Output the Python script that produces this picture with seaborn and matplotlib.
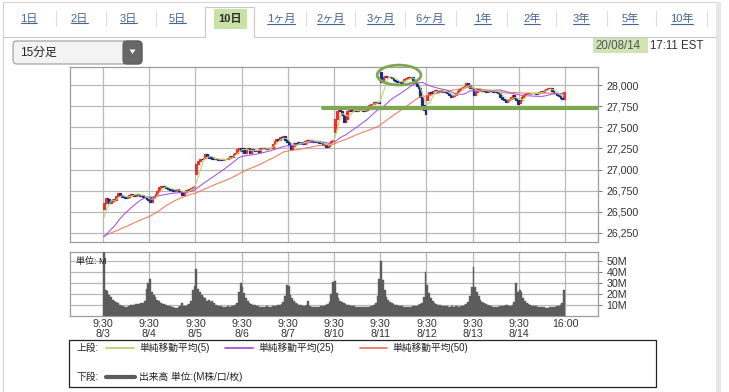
import numpy as np
import pandas as pd
import matplotlib
matplotlib.use("Agg")
import matplotlib.pyplot as plt
import matplotlib.transforms as mtransforms
from matplotlib.patches import Rectangle, Ellipse, FancyBboxPatch, Polygon
from matplotlib.lines import Line2D
import seaborn as sns

# ---------------- data ----------------
day_labels = ["8/3", "8/4", "8/5", "8/6", "8/7", "8/10", "8/11", "8/12", "8/13", "8/14"]
start_time_label = "9:30"
end_time_label = "16:00"

# closes of the bars before the visible window (used only for the moving averages)
prev_closes = [26250, 26200, 26180, 26150, 26200, 26230, 26250, 26220, 26200, 26210,
               26240, 26260, 26230, 26220, 26200, 26190, 26210, 26230, 26250, 26270,
               26240, 26220, 26200, 26230, 26300,
               26150, 26100, 26050, 26080, 26120, 26100, 26050, 26000, 26030, 26080,
               26100, 26150, 26180, 26200, 26220, 26250, 26230, 26270, 26300, 26330,
               26350, 26380, 26400, 26428]

day_opens = [26530, 26670, 26950, 27230, 27330, 27440, 28150, 27820, 27970, 27790]

close_0803 = [26600, 26660, 26650, 26600, 26630, 26650, 26640, 26690, 26720, 26700, 26680, 26670, 26660,
              26680, 26700, 26710, 26700, 26690, 26710, 26700, 26690, 26700, 26680, 26670, 26650, 26640]
close_0804 = [26620, 26660, 26690, 26710, 26750, 26790, 26810, 26800, 26790, 26780, 26770, 26760, 26770,
              26750, 26760, 26770, 26750, 26730, 26700, 26740, 26760, 26750, 26770, 26780, 26790, 26800]
close_0805 = [27060, 27100, 27130, 27120, 27140, 27180, 27160, 27140, 27150, 27130, 27120, 27130, 27110,
              27120, 27110, 27120, 27130, 27120, 27140, 27160, 27150, 27180, 27200, 27240, 27260, 27220]
close_0806 = [27260, 27200, 27240, 27250, 27190, 27240, 27230, 27220, 27230, 27210, 27250, 27260, 27250,
              27240, 27260, 27250, 27260, 27300, 27340, 27360, 27350, 27380, 27370, 27400, 27350, 27330]
close_0807 = [27290, 27240, 27280, 27310, 27300, 27330, 27310, 27320, 27300, 27340, 27350, 27340, 27350,
              27330, 27340, 27320, 27340, 27310, 27320, 27290, 27300, 27270, 27280, 27310, 27340, 27350]
close_0810 = [27600, 27690, 27700, 27690, 27640, 27560, 27600, 27690, 27700, 27690, 27710, 27700, 27690,
              27700, 27710, 27700, 27690, 27710, 27740, 27760, 27770, 27780, 27800, 27790, 27800, 27791]
close_0811 = [28040, 28090, 28110, 28100, 28090, 28100, 28080, 28060, 28050, 28030, 28040, 28020, 28050,
              28070, 28080, 28090, 28080, 28100, 28060, 28020, 27990, 27960, 27860, 27760, 27700, 27660]
close_0812 = [27880, 27920, 27910, 27930, 27940, 27930, 27920, 27940, 27930, 27920, 27930, 27910, 27880,
              27860, 27870, 27880, 27910, 27930, 27950, 27960, 27980, 27990, 28020, 28000, 27970, 27960]
close_0813 = [27880, 27920, 27950, 27940, 27930, 27940, 27930, 27920, 27930, 27940, 27930, 27920, 27930,
              27920, 27900, 27860, 27830, 27820, 27800, 27820, 27840, 27860, 27880, 27850, 27820, 27780]
close_0814 = [27820, 27860, 27880, 27890, 27900, 27890, 27900, 27910, 27900, 27890, 27900, 27920, 27930,
              27920, 27940, 27950, 27960, 27970, 27930, 27910, 27900, 27880, 27870, 27850, 27840, 27920]

# volume in millions
vol_0803 = [58, 24, 23, 19, 17, 15, 14, 13, 12, 10, 9, 9, 8, 8, 9, 10, 10, 10, 11, 11, 11, 12, 12, 14, 25, 30]
vol_0804 = [34, 22, 19, 17, 15, 14, 12, 11, 11, 10, 9, 9, 8, 8, 7, 7, 8, 9, 12, 9, 9, 10, 11, 14, 24, 27]
vol_0805 = [43, 25, 22, 19, 17, 16, 14, 15, 13, 14, 12, 10, 9, 9, 9, 8, 8, 8, 9, 8, 9, 9, 10, 12, 22, 30]
vol_0806 = [26, 21, 16, 14, 12, 11, 10, 10, 9, 9, 8, 8, 8, 8, 9, 8, 8, 9, 9, 9, 10, 10, 11, 13, 18, 28]
vol_0807 = [27, 19, 16, 14, 12, 11, 10, 10, 9, 9, 10, 14, 9, 8, 8, 8, 8, 8, 9, 9, 9, 10, 11, 13, 20, 31]
vol_0810 = [32, 21, 16, 14, 13, 12, 11, 10, 10, 9, 9, 9, 8, 8, 8, 8, 8, 8, 8, 8, 9, 9, 10, 12, 18, 34]
vol_0811 = [50, 33, 24, 17, 15, 13, 12, 11, 10, 10, 9, 9, 9, 8, 8, 8, 8, 8, 9, 9, 9, 10, 11, 12, 17, 40]
vol_0812 = [28, 21, 16, 14, 12, 11, 10, 10, 9, 9, 9, 9, 8, 8, 9, 8, 9, 9, 8, 9, 9, 10, 11, 13, 18, 26]
vol_0813 = [45, 26, 22, 18, 15, 13, 12, 11, 10, 9, 9, 8, 8, 8, 8, 9, 9, 9, 10, 10, 9, 9, 10, 13, 30, 22]
vol_0814 = [24, 22, 16, 14, 12, 11, 10, 9, 9, 9, 8, 8, 8, 8, 8, 7, 7, 8, 8, 8, 8, 9, 9, 10, 12, 24]

price_ticks = [26250, 26500, 26750, 27000, 27250, 27500, 27750, 28000]
vol_ticks = [10, 20, 30, 40, 50]
tab_labels = ["1日", "2日", "3日", "5日", "10日", "1ヶ月", "2ヶ月", "3ヶ月", "6ヶ月",
              "1年", "2年", "3年", "5年", "10年"]
selected_tab = "10日"
interval_label = "15分足"
date_label = "20/08/14"
time_label = "17:11 EST"
legend_upper = ["単純移動平均(5)", "単純移動平均(25)", "単純移動平均(50)"]
legend_lower = "出来高 単位:(M株/口/枚)"
unit_label = "単位: M"

# ---------------- build series ----------------
closes_by_day = [close_0803, close_0804, close_0805, close_0806, close_0807,
                 close_0810, close_0811, close_0812, close_0813, close_0814]
vols_by_day = [vol_0803, vol_0804, vol_0805, vol_0806, vol_0807,
               vol_0810, vol_0811, vol_0812, vol_0813, vol_0814]
bars_per_day = len(close_0803)
closes = np.array(sum(closes_by_day, []), dtype=float)
volume = np.array(sum(vols_by_day, []), dtype=float)
n = len(closes)
xs = np.arange(n)
opens = np.empty(n)
for d, dc in enumerate(closes_by_day):
    base = d * bars_per_day
    opens[base] = day_opens[d]
    opens[base + 1: base + bars_per_day] = dc[:-1]

full = pd.Series(list(prev_closes) + list(closes))
sma5 = full.rolling(5).mean().to_numpy()[-n:]
sma25 = full.rolling(25).mean().to_numpy()[-n:]
sma50 = full.rolling(50, min_periods=1).mean().to_numpy()[-n:]

# ---------------- style ----------------
sns.set_theme(style="white")
plt.rcParams['font.family'] = ['Liberation Sans', 'Noto Sans CJK JP', 'DejaVu Sans']
plt.rcParams['axes.unicode_minus'] = False

W, H = 729, 392
fig = plt.figure(figsize=(W / 100, H / 100), dpi=100)
fig.patch.set_facecolor("white")
T = mtransforms.Affine2D().scale(1.0 / W, -1.0 / H).translate(0, 1) + fig.transFigure

RED = "#e5322c"
BLUE = "#1d2a86"
C5 = "#b6d66a"
C25 = "#a650e0"
C50 = "#ef7a5a"
GRID = "#b8b8b8"
SPINE = "#9c9c9c"
TXT = "#333333"
ANNOT = "#7ea653"

x_left, x_right = -19.07, 278.07
grid_x = [d * bars_per_day - 0.5 for d in range(len(day_labels) + 1)]

# ---------------- price panel ----------------
ax_p = fig.add_axes([70 / W, 1 - 242 / H, 528 / W, 175 / H])
ax_p.set_xlim(x_left, x_right)
ax_p.set_ylim(26143, 28213)
up = closes >= opens
dn = ~up
ax_p.bar(xs[up], (closes - opens)[up], bottom=opens[up], width=1.0,
         color=RED, edgecolor=RED, linewidth=0.9, zorder=3)
ax_p.bar(xs[dn], (closes - opens)[dn], bottom=opens[dn], width=1.0,
         color=BLUE, edgecolor=BLUE, linewidth=0.9, zorder=3)
sns.lineplot(x=xs, y=sma50, ax=ax_p, color=C50, linewidth=0.75, estimator=None, legend=False, zorder=4)
sns.lineplot(x=xs, y=sma25, ax=ax_p, color=C25, linewidth=0.75, estimator=None, legend=False, zorder=4)
sns.lineplot(x=xs, y=sma5, ax=ax_p, color=C5, linewidth=0.75, estimator=None, legend=False, zorder=4)

ax_p.set_xticks(grid_x)
ax_p.set_xticklabels([])
ax_p.set_yticks(price_ticks)
ax_p.set_yticklabels([f"{v:,}" for v in price_ticks])
ax_p.yaxis.tick_right()
ax_p.tick_params(axis="y", which="both", right=True, left=False, length=3, width=0.7,
                 color="#777777", pad=3, labelsize=7.7, labelcolor=TXT)
ax_p.tick_params(axis="x", length=0)
ax_p.grid(True, color=GRID, linewidth=0.9, zorder=0)
ax_p.set_axisbelow(True)
for s in ax_p.spines.values():
    s.set_color(SPINE)
    s.set_linewidth(0.9)
ax_p.set_xlabel("")
ax_p.set_ylabel("")

# annotations
ax_p.add_patch(Ellipse((166.1, 28118), width=24.6, height=235, fill=False,
                       edgecolor=ANNOT, linewidth=2.0, clip_on=False, zorder=6))
ax_p.plot([123.3, x_right], [27731, 27731], color=ANNOT, linewidth=3.0,
          solid_capstyle="round", zorder=6)

# ---------------- volume panel ----------------
ax_v = fig.add_axes([70 / W, 1 - 316 / H, 528 / W, 64 / H])
ax_v.set_xlim(x_left, x_right)
ax_v.set_ylim(0, 58.2)
ax_v.bar(xs, volume, width=1.0, color="#5c5c5c", edgecolor="#5c5c5c", linewidth=0.3, zorder=3)
ax_v.set_xticks(grid_x)
ax_v.set_xticklabels([f"{start_time_label}\n{d}" for d in day_labels] + [end_time_label],
                     linespacing=1.0)
ax_v.set_yticks(vol_ticks)
ax_v.set_yticklabels([f"{v}M" for v in vol_ticks])
ax_v.yaxis.tick_right()
ax_v.tick_params(axis="y", right=True, left=False, length=3, width=0.7, color="#777777",
                 pad=3, labelsize=7.7, labelcolor=TXT)
ax_v.tick_params(axis="x", length=0, pad=2.5, labelsize=7.7, labelcolor=TXT)
for lab in ax_v.get_xticklabels():
    lab.set_verticalalignment("top")
ax_v.grid(True, color=GRID, linewidth=0.9, zorder=0)
ax_v.set_axisbelow(True)
for s in ax_v.spines.values():
    s.set_color(SPINE)
    s.set_linewidth(0.9)
ax_v.text(0.012, 0.93, unit_label, transform=ax_v.transAxes, fontsize=6.5,
          color="#222222", va="top", ha="left", zorder=5)

# ---------------- page chrome ----------------
def hline(x1, x2, y, color, lw=0.8):
    fig.add_artist(Line2D([x1, x2], [y, y], transform=T, color=color, linewidth=lw))

def vline(x, y1, y2, color, lw=0.8):
    fig.add_artist(Line2D([x, x], [y1, y2], transform=T, color=color, linewidth=lw))

# frame
vline(3, 2, 392, "#cfcfcf")
hline(3, 716, 2, "#d6d6d6")
fig.add_artist(Rectangle((716, 2), 5, 390, transform=T, facecolor="#e6e6e6",
                         edgecolor="none"))
hline(3, 205, 37, "#c8c8c8")
hline(254, 716, 37, "#c8c8c8")
vline(205, 7, 37, "#c8c8c8")
vline(254, 7, 37, "#c8c8c8")
hline(205, 254, 7, "#c8c8c8")

# tabs
tab_x = [29, 79.5, 128.5, 177.5, 230, 281, 330.5, 380.5, 430, 482.5, 532, 581, 630, 682]
sep_x = [56, 106.5, 156.5, 306, 355, 405, 456, 507, 556, 607, 656, 707]
for sx in sep_x:
    vline(sx, 11, 26, "#dddddd")
fig.add_artist(Rectangle((214, 9), 33, 20, transform=T, facecolor="#c9e1a6", edgecolor="none"))
tab_texts = []
for lab, tx in zip(tab_labels, tab_x):
    if lab == selected_tab:
        fig.text(tx, 19, lab, transform=T, ha="center", va="center", fontsize=8,
                 color="#2d2d2d", fontweight="bold")
    else:
        t = fig.text(tx, 19, lab, transform=T, ha="center", va="center", fontsize=8,
                     color="#456593")
        tab_texts.append(t)

# dropdown
fig.add_artist(FancyBboxPatch((13, 41), 129, 23, transform=T,
                              boxstyle="round,pad=0,rounding_size=4",
                              facecolor="#f3f3f3", edgecolor="#9a9a9a", linewidth=0.8))
fig.add_artist(FancyBboxPatch((123, 41), 19, 23, transform=T,
                              boxstyle="round,pad=0,rounding_size=4",
                              facecolor="#676767", edgecolor="#5a5a5a", linewidth=0.8))
fig.add_artist(Rectangle((123, 41.4), 6, 22.2, transform=T, facecolor="#676767",
                         edgecolor="none"))
fig.add_artist(Polygon([(129.5, 49.5), (135.5, 49.5), (132.5, 54)], closed=True,
                       transform=T, facecolor="white", edgecolor="none"))
fig.text(20, 52.5, interval_label, transform=T, ha="left", va="center", fontsize=8.5,
         color="#222222")

# date stamp
fig.add_artist(Rectangle((593, 38), 55, 15, transform=T, facecolor="#cfe4b1", edgecolor="none"))
fig.text(595, 45.8, date_label, transform=T, ha="left", va="center", fontsize=8.3,
         color="#555555")
fig.text(650, 45.8, time_label, transform=T, ha="left", va="center", fontsize=8.3,
         color="#333333")

# legend box
fig.add_artist(Rectangle((69, 340), 587, 47, transform=T, facecolor="none",
                         edgecolor="#222222", linewidth=0.9))
LF = 7.0
fig.text(77, 348, "上段:", transform=T, ha="left", va="center", fontsize=LF, color="#222222")
for (x1, x2, xt), col, lab in zip([(106, 134, 139), (225, 253, 258), (360, 387, 392)],
                                  [C5, C25, C50], legend_upper):
    hline(x1, x2, 348, col, lw=1.3)
    fig.text(xt, 348, lab, transform=T, ha="left", va="center", fontsize=LF, color="#222222")
fig.text(77, 377, "下段:", transform=T, ha="left", va="center", fontsize=LF, color="#222222")
hline(106, 135, 377, "#5c5c5c", lw=3.0)
fig.text(139, 377, legend_lower, transform=T, ha="left", va="center", fontsize=LF,
         color="#222222")

# underline the tab links
fig.canvas.draw()
for t in tab_texts:
    bb = t.get_window_extent()
    y = H - bb.y0 - 0.5
    hline(bb.x0 + 0.5, bb.x1 - 0.5, y, "#456593", lw=0.8)

fig.savefig("out.png", dpi=100, facecolor="white")
